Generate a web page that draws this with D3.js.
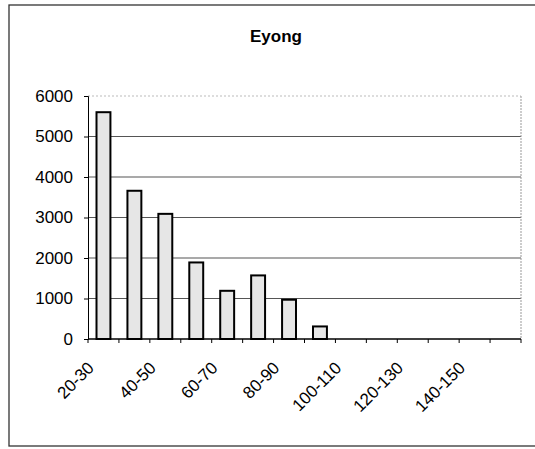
<!DOCTYPE html>
<html>
<head>
<meta charset="utf-8">
<script src="https://cdn.jsdelivr.net/npm/d3@7"></script>
<style>
  body { margin: 0; background: #fff; }
  text { font-family: "Liberation Sans", Arial, sans-serif; fill: #000; }
</style>
</head>
<body>
<svg></svg>
<script>
// data
var categories = ["20-30", "30-40", "40-50", "50-60", "60-70", "70-80", "80-90",
                  "90-100", "100-110", "110-120", "120-130", "130-140", "140-150", "150-160"];
var counts = [5600, 3660, 3090, 1890, 1190, 1570, 970, 310, 0, 0, 0, 0, 0, 0];
var yTicks = [0, 1000, 2000, 3000, 4000, 5000, 6000];
var title = "Eyong";

var svgWidth = 535;
var svgHeight = 449;
var svg = d3.select("svg")
            .attr("width", svgWidth)
            .attr("height", svgHeight);

// outer chart border
svg.append("rect")
   .attr("x", 9).attr("y", 5)
   .attr("width", 540).attr("height", 441)
   .attr("fill", "none")
   .attr("stroke", "#333")
   .attr("stroke-width", 1.3);

// plot area edges
var plotLeft = 88, plotRight = 521, plotTop = 96, plotBottom = 339;

var x = d3.scaleBand()
          .domain(categories)
          .range([plotLeft, plotRight])
          .paddingInner(0.55)
          .paddingOuter(0.275);

var y = d3.scaleLinear()
          .domain([0, 6000])
          .range([plotBottom, plotTop]);

// gridlines
svg.append("g")
   .selectAll("line")
   .data(yTicks.filter(function(d){ return d > 0; }))
   .enter()
   .append("line")
   .attr("x1", plotLeft).attr("x2", plotRight)
   .attr("y1", function(d){ return y(d); })
   .attr("y2", function(d){ return y(d); })
   .attr("stroke", function(d){ return d == 6000 ? "#bbb" : "#555"; })
   .attr("stroke-dasharray", function(d){ return d == 6000 ? "2,2" : null; })
   .attr("stroke-width", 1.2);

// right border of plot area
svg.append("line")
   .attr("x1", plotRight).attr("x2", plotRight)
   .attr("y1", plotTop).attr("y2", plotBottom)
   .attr("stroke", "#999")
   .attr("stroke-dasharray", "2,1");

// bars
svg.append("g")
   .selectAll("rect")
   .data(counts)
   .enter()
   .append("rect")
   .attr("x", function(d, i){ return x(categories[i]); })
   .attr("y", function(d){ return y(d); })
   .attr("width", x.bandwidth())
   .attr("height", function(d){ return plotBottom - y(d); })
   .attr("fill", "#e6e6e6")
   .attr("stroke", "#000")
   .attr("stroke-width", function(d){ return d > 0 ? 2 : 0; });

// y axis
var yAxis = svg.append("g")
   .attr("transform", "translate(" + plotLeft + ",0)")
   .call(d3.axisLeft(y).tickValues(yTicks).tickSize(4).tickPadding(11).tickFormat(d3.format("d")));
yAxis.selectAll("text").style("font-size", "17px");
yAxis.selectAll("line, path").attr("stroke", "#000");

// x axis with ticks on category boundaries
var xAxis = svg.append("g")
   .attr("transform", "translate(0," + plotBottom + ")");
xAxis.append("line")
   .attr("x1", plotLeft).attr("x2", plotRight)
   .attr("stroke", "#000").attr("stroke-width", 1.3);
xAxis.selectAll("line.tick")
   .data(d3.range(categories.length + 1))
   .enter()
   .append("line")
   .attr("class", "tick")
   .attr("x1", function(d){ return plotLeft + d * x.step(); })
   .attr("x2", function(d){ return plotLeft + d * x.step(); })
   .attr("y1", 0).attr("y2", 4)
   .attr("stroke", "#000");

// every second category label, rotated
xAxis.selectAll("text")
   .data(categories.filter(function(d, i){ return i % 2 == 0; }))
   .enter()
   .append("text")
   .attr("transform", function(d){
      return "translate(" + (x(d) + x.bandwidth() / 2 - 8.5) + ",30) rotate(-45)";
   })
   .attr("text-anchor", "end")
   .style("font-size", "17px")
   .text(function(d){ return d; });

// title
svg.append("text")
   .attr("x", 276).attr("y", 42)
   .attr("text-anchor", "middle")
   .style("font-size", "17px")
   .style("font-weight", "bold")
   .text(title);
</script>
</body>
</html>
